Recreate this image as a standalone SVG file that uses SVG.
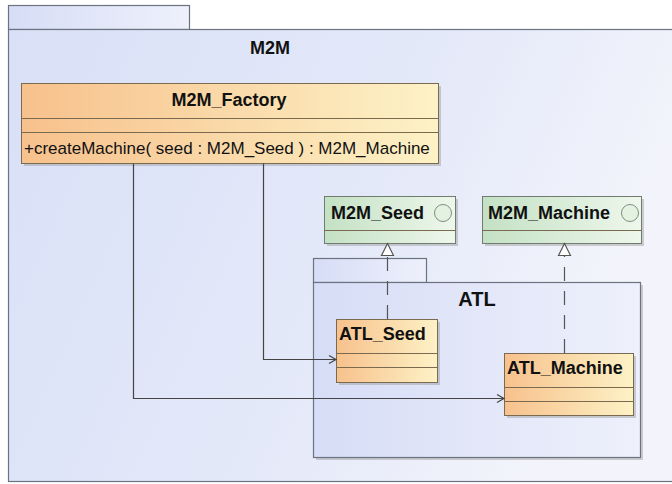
<svg xmlns="http://www.w3.org/2000/svg" width="672" height="484" viewBox="0 0 672 484">
<defs>
<linearGradient id="pkg" x1="0" y1="0" x2="1" y2="0.3"><stop offset="0" stop-color="#d9e0f7"/><stop offset="0.6" stop-color="#e4e9f9"/><stop offset="1" stop-color="#f3f4fb"/></linearGradient>
<linearGradient id="pkg2" x1="0" y1="0" x2="1" y2="0"><stop offset="0" stop-color="#d6ddf6"/><stop offset="1" stop-color="#eef0fb"/></linearGradient>
<linearGradient id="cls" x1="0" y1="0" x2="1" y2="0"><stop offset="0" stop-color="#f7c18c"/><stop offset="1" stop-color="#fdf2c6"/></linearGradient>
<linearGradient id="itf" x1="0" y1="0" x2="1" y2="0"><stop offset="0" stop-color="#c4e1c4"/><stop offset="1" stop-color="#eef7ec"/></linearGradient>
<marker id="open" markerWidth="10" markerHeight="10" refX="8" refY="5" orient="auto" markerUnits="userSpaceOnUse"><path d="M1,1 L8,5 L1,9" fill="none" stroke="#444" stroke-width="1.2"/></marker>
</defs>
<style>
.pk{stroke:#6b7380;stroke-width:1.2}
.cb{fill:url(#cls);stroke:#7a6a50;stroke-width:1}
.ib{fill:url(#itf);stroke:#6f7c6f;stroke-width:1}
.sh{fill:#9a9a9a;opacity:0.45}
.ln{fill:none;stroke:#7a6a50;stroke-width:1}
.t{font-family:"Liberation Sans",Arial,sans-serif;font-weight:bold;fill:#111}
.m{font-family:"Liberation Sans",Arial,sans-serif;fill:#111}
.c{fill:none;stroke:#444;stroke-width:1.2}
.d{fill:none;stroke:#555;stroke-width:1.2;stroke-dasharray:14,10}
</style>
<rect width="672" height="484" fill="#ffffff"/>
<g id="M2M">
<rect x="8.5" y="5.5" width="181" height="24" fill="url(#pkg2)" class="pk"/>
<rect x="8.5" y="29.5" width="670" height="452" fill="url(#pkg)" class="pk"/>
<text x="270" y="54" class="t" font-size="18" text-anchor="middle">M2M</text>
</g>
<g id="ATL">
<rect x="316" y="285" width="327" height="175" class="sh"/>
<rect x="313.5" y="258.5" width="113" height="24" fill="url(#pkg2)" class="pk"/>
<rect x="313.5" y="282.5" width="327" height="175" fill="url(#pkg2)" class="pk"/>
<text x="477" y="306" class="t" font-size="20" text-anchor="middle">ATL</text>
</g>
<g id="M2M_Factory">
<rect x="24" y="86" width="417" height="80" class="sh"/>
<rect x="21.5" y="83.5" width="417" height="80" class="cb"/>
<line x1="21.5" y1="118.5" x2="438.5" y2="118.5" class="ln"/>
<line x1="21.5" y1="132.5" x2="438.5" y2="132.5" class="ln"/>
<text x="229" y="106" class="t" font-size="18" text-anchor="middle">M2M_Factory</text>
<text x="24" y="154" class="m" font-size="17">+createMachine( seed : M2M_Seed ) : M2M_Machine</text>
</g>
<g id="M2M_Seed">
<rect x="327" y="199" width="131" height="47" class="sh"/>
<rect x="324.5" y="196.5" width="131" height="47" class="ib"/>
<line x1="324.5" y1="230.5" x2="455.5" y2="230.5" class="ln"/>
<text x="331" y="219" class="t" font-size="18">M2M_Seed</text>
<circle cx="443" cy="213" r="8.5" fill="#e4f2e2" stroke="#7f8f7f"/>
</g>
<g id="M2M_Machine">
<rect x="485" y="199" width="159" height="47" class="sh"/>
<rect x="482.5" y="196.5" width="159" height="47" class="ib"/>
<line x1="482.5" y1="230.5" x2="641.5" y2="230.5" class="ln"/>
<text x="488" y="219" class="t" font-size="18">M2M_Machine</text>
<circle cx="630" cy="213" r="8.5" fill="#e4f2e2" stroke="#7f8f7f"/>
</g>
<g id="ATL_Seed">
<rect x="339" y="322" width="101" height="63" class="sh"/>
<rect x="336.5" y="319.5" width="101" height="63" class="cb"/>
<line x1="336.5" y1="353.5" x2="437.5" y2="353.5" class="ln"/>
<line x1="336.5" y1="367.5" x2="437.5" y2="367.5" class="ln"/>
<text x="339" y="340" class="t" font-size="18">ATL_Seed</text>
</g>
<g id="ATL_Machine">
<rect x="507" y="356" width="129" height="62" class="sh"/>
<rect x="504.5" y="353.5" width="129" height="62" class="cb"/>
<line x1="504.5" y1="387.5" x2="633.5" y2="387.5" class="ln"/>
<line x1="504.5" y1="401.5" x2="633.5" y2="401.5" class="ln"/>
<text x="507" y="374" class="t" font-size="18">ATL_Machine</text>
</g>
<g id="connectors">
<polyline points="133.5,163.5 133.5,398.5 504,398.5" class="c" marker-end="url(#open)"/>
<polyline points="263.5,163.5 263.5,359.5 336,359.5" class="c" marker-end="url(#open)"/>
<line x1="387.5" y1="319" x2="387.5" y2="255" class="d"/>
<polygon points="387.5,243.5 381.5,255.5 393.5,255.5" fill="#ffffff" stroke="#555" stroke-width="1.2"/>
<line x1="564.5" y1="353" x2="564.5" y2="255" class="d"/>
<polygon points="564.5,243.5 558.5,255.5 570.5,255.5" fill="#ffffff" stroke="#555" stroke-width="1.2"/>
</g>
</svg>
